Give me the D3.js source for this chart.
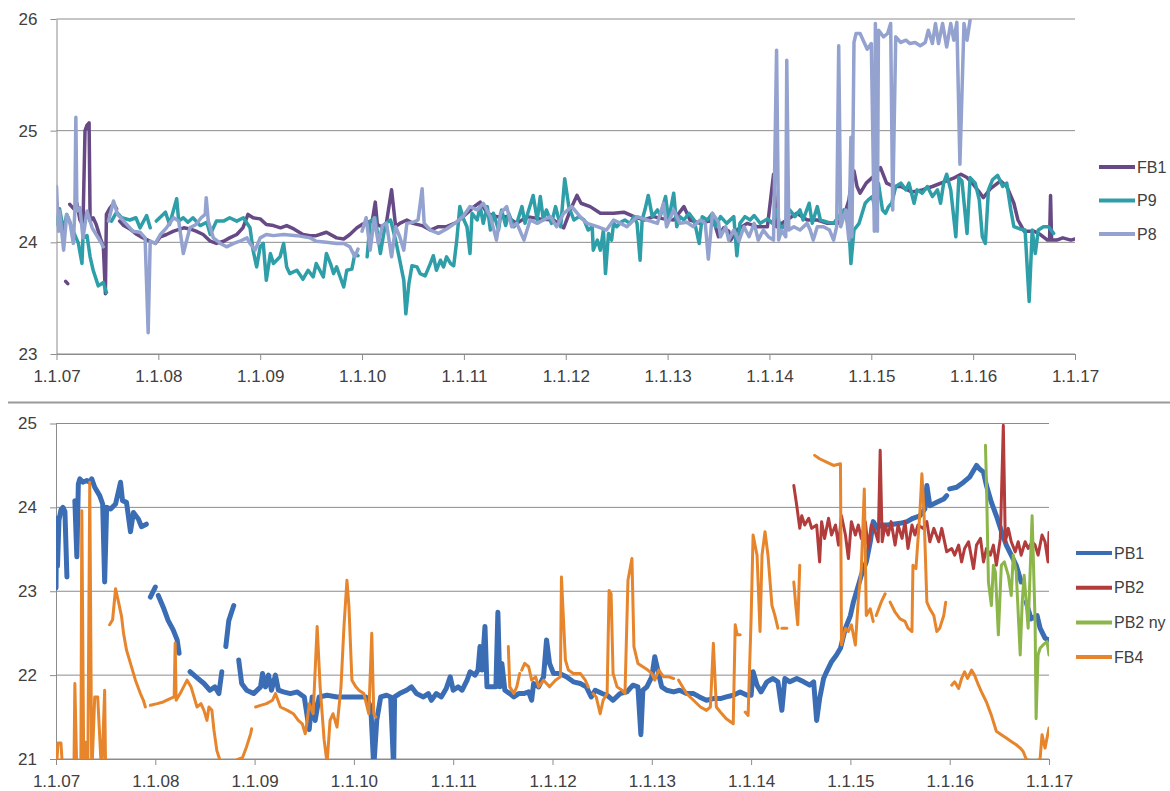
<!DOCTYPE html>
<html>
<head>
<meta charset="utf-8">
<script src="https://cdn.jsdelivr.net/npm/d3@7"></script>
<style>
  body { margin: 0; background: #fff; }
  svg { display: block; }
  text { font-family: "Liberation Sans", Arial, sans-serif; fill: #404040; }
</style>
</head>
<body>
<svg id="chart"></svg>
<script>
// x values are years after 2000 (7.5 = mid 2007), null = gap in the series
const years = d3.range(7, 18);
const topTicks = [23, 24, 25, 26];
const bottomTicks = [21, 22, 23, 24, 25];

const fb1 = [[7.09,23.65],[7.11,23.63],null,
  [7.13,24.34],[7.17,24.3],[7.2,24.35],[7.23,24.2],[7.26,24.15],[7.28,25.0],[7.3,25.05],[7.32,25.07],[7.33,24.19],[7.36,24.22],[7.39,24.16],[7.43,24.04],[7.46,23.96],[7.48,23.54],[7.49,24.25],[7.52,24.3],[7.56,24.35],[7.59,24.3],null,
  [7.62,24.19],[7.66,24.15],[7.72,24.12],[7.79,24.07],[7.85,24.04],[7.92,24.01],null,
  [7.97,23.99],[8.02,24.05],[8.08,24.07],[8.15,24.1],[8.25,24.13],[8.31,24.12],[8.37,24.1],[8.44,24.07],[8.51,24.01],[8.57,23.99],[8.64,24.01],[8.7,24.04],[8.77,24.07],[8.83,24.13],[8.88,24.25],[8.93,24.22],[9.0,24.21],[9.06,24.16],[9.13,24.15],[9.2,24.13],[9.26,24.15],[9.33,24.12],[9.42,24.07],[9.49,24.06],[9.55,24.06],[9.65,24.09],[9.75,24.04],[9.82,24.03],[9.88,24.07],[9.95,24.13],[10.0,24.16],[10.05,24.18],[10.1,24.19],[10.13,24.36],[10.15,24.16],[10.21,24.13],[10.24,24.18],[10.29,24.47],[10.33,24.14],[10.37,24.17],[10.44,24.2],[10.5,24.17],[10.59,24.15],[10.67,24.11],[10.75,24.14],[10.83,24.14],[10.93,24.18],[11.03,24.26],[11.1,24.32],[11.16,24.36],[11.23,24.26],[11.32,24.23],[11.42,24.23],[11.52,24.17],[11.62,24.23],[11.75,24.21],[11.88,24.2],[11.98,24.13],[12.05,24.3],[12.11,24.42],[12.15,24.35],[12.24,24.32],[12.34,24.26],[12.47,24.26],[12.57,24.27],[12.67,24.23],[12.77,24.2],[12.86,24.23],[12.96,24.21],[13.06,24.2],[13.16,24.32],[13.22,24.2],[13.32,24.17],[13.45,24.2],[13.5,24.05],[13.55,24.13],[13.6,24.1],[13.62,24.02],[13.68,24.11],[13.78,24.17],[13.88,24.14],[13.98,24.14],[14.04,24.61],[14.07,24.14],[14.17,24.2],[14.27,24.26],[14.37,24.2],[14.47,24.2],[14.57,24.17],[14.67,24.17],[14.73,24.23],[14.78,24.38],[14.81,24.58],[14.83,24.64],[14.86,24.5],[14.89,24.44],[14.95,24.53],[15.02,24.59],[15.09,24.67],[15.15,24.53],[15.22,24.5],[15.29,24.5],[15.4,24.45],[15.5,24.47],[15.6,24.5],[15.74,24.55],[15.82,24.58],[15.88,24.61],[15.94,24.58],[16.0,24.52],[16.06,24.45],[16.1,24.4],[16.17,24.48],[16.27,24.55],[16.33,24.5],[16.4,24.35],[16.44,24.2],[16.5,24.1],[16.6,24.1],[16.66,24.07],[16.73,24.02],[16.75,24.02],[16.76,24.42],[16.77,24.02],[16.82,24.02],[16.88,24.04],[16.96,24.02],[17.0,24.03]];

const p9 = [[7.0,24.16],[7.03,24.3],[7.07,24.1],[7.1,24.25],[7.165,24.1],[7.215,23.99],[7.25,23.81],[7.26,24.04],[7.3,24.06],[7.33,23.87],[7.36,23.75],[7.41,23.61],[7.46,23.64],[7.49,23.55],null,
  [7.54,24.19],[7.59,24.27],[7.64,24.22],[7.72,24.2],[7.78,24.22],[7.82,24.13],[7.885,24.24],[7.92,24.13],null,
  [7.98,24.19],[8.07,24.27],[8.11,24.16],[8.18,24.39],[8.2,24.19],[8.245,24.22],[8.29,24.18],[8.34,24.22],[8.41,24.15],[8.475,24.18],[8.51,24.07],[8.57,24.19],[8.64,24.19],[8.7,24.22],[8.77,24.19],[8.835,24.22],[8.9,24.13],[8.93,23.93],[8.965,23.78],[9.0,23.96],[9.03,23.99],[9.06,23.66],[9.1,23.9],[9.13,23.81],[9.195,23.87],[9.23,23.99],[9.26,23.78],[9.29,23.72],[9.36,23.75],[9.42,23.67],[9.47,23.75],[9.52,23.69],[9.55,23.81],[9.62,23.69],[9.65,23.9],[9.69,23.81],[9.72,23.72],[9.75,23.78],[9.82,23.6],[9.85,23.75],[9.9,23.76],[9.93,23.9],[9.96,23.88],null,
  [10.05,23.87],[10.08,24.19],[10.13,24.22],[10.18,23.9],[10.23,24.17],[10.28,24.2],[10.33,24.02],[10.37,23.84],[10.41,23.66],[10.43,23.36],[10.46,23.63],[10.49,23.79],[10.54,23.78],[10.57,23.72],[10.62,23.7],[10.67,23.81],[10.7,23.88],[10.73,23.75],[10.77,23.84],[10.8,23.78],[10.83,23.87],[10.87,23.81],[10.9,23.79],[10.93,24.02],[10.96,24.32],[11.0,24.2],[11.03,24.14],[11.06,23.9],[11.08,24.26],[11.13,24.2],[11.16,24.32],[11.19,24.17],[11.23,24.32],[11.26,24.11],[11.29,24.26],[11.34,24.11],[11.37,24.29],[11.41,24.15],[11.44,24.26],[11.49,24.14],[11.52,24.17],[11.57,24.32],[11.6,24.17],[11.63,24.27],[11.68,24.42],[11.72,24.2],[11.75,24.41],[11.78,24.2],[11.81,24.29],[11.86,24.17],[11.9,24.32],[11.95,24.14],[11.99,24.57],[12.03,24.32],[12.08,24.2],[12.13,24.23],[12.18,24.2],[12.22,24.11],[12.26,24.14],[12.27,23.93],[12.31,24.02],[12.34,23.93],[12.37,24.11],[12.39,23.72],[12.42,24.08],[12.45,24.02],[12.47,24.17],[12.5,24.14],[12.54,24.18],[12.58,24.2],[12.63,24.17],[12.67,24.23],[12.7,24.17],[12.73,23.84],[12.75,24.2],[12.78,24.3],[12.81,24.42],[12.85,24.23],[12.9,24.29],[12.93,24.24],[12.98,24.41],[13.01,24.2],[13.06,24.44],[13.09,24.14],[13.12,24.23],[13.16,24.2],[13.21,24.26],[13.26,24.2],[13.31,23.99],[13.34,24.23],[13.39,24.2],[13.44,24.26],[13.47,24.14],[13.52,24.23],[13.58,24.17],[13.65,24.23],[13.68,23.88],[13.71,24.17],[13.76,24.23],[13.81,24.2],[13.85,24.24],[13.91,24.17],[13.98,24.21],[14.03,24.17],[14.07,24.29],[14.11,24.11],[14.16,24.17],[14.2,24.29],[14.25,24.23],[14.3,24.29],[14.33,24.2],[14.39,24.35],[14.42,24.17],[14.47,24.32],[14.5,24.2],[14.57,24.18],[14.63,24.17],[14.68,24.23],[14.73,24.29],[14.78,24.14],[14.8,23.81],[14.83,24.11],[14.88,24.17],[14.91,24.26],[14.94,24.35],[14.97,24.38],[15.01,24.41],[15.04,24.29],[15.07,24.53],[15.11,24.29],[15.14,24.26],[15.17,24.32],[15.2,24.35],[15.24,24.5],[15.29,24.53],[15.34,24.47],[15.37,24.53],[15.42,24.35],[15.45,24.47],[15.5,24.44],[15.55,24.5],[15.6,24.41],[15.65,24.47],[15.68,24.35],[15.71,24.53],[15.74,24.61],[15.78,24.47],[15.83,24.05],[15.86,24.58],[15.89,24.55],[15.94,24.08],[15.97,24.58],[16.02,24.53],[16.06,24.38],[16.09,24.05],[16.12,23.99],[16.15,24.47],[16.19,24.56],[16.24,24.6],[16.29,24.5],[16.33,24.53],[16.37,24.29],[16.4,24.14],[16.46,24.12],[16.51,24.11],[16.55,23.47],[16.58,24.11],[16.61,23.9],[16.64,24.11],[16.69,24.14],[16.74,24.14],[16.79,24.08]];

const p8 = [[7.0,24.5],[7.01,24.28],[7.02,24.1],[7.03,24.28],[7.07,23.93],[7.1,24.25],[7.13,24.19],[7.165,23.99],[7.18,24.28],[7.19,25.12],[7.2,24.28],[7.23,24.31],[7.26,24.04],[7.3,24.28],[7.35,24.13],[7.39,24.07],[7.43,24.01],[7.46,23.96],null,
  [7.51,24.19],[7.56,24.37],[7.6,24.25],[7.66,24.19],[7.75,24.1],[7.82,24.09],[7.87,24.04],[7.9,23.19],[7.92,24.01],[7.97,23.99],[8.02,24.07],[8.08,24.13],[8.15,24.22],[8.2,24.19],[8.245,23.9],[8.31,24.13],[8.37,24.16],[8.42,24.22],[8.46,24.25],[8.47,24.4],[8.49,24.19],[8.54,24.04],[8.61,23.99],[8.67,23.96],[8.74,23.99],[8.8,24.01],[8.87,24.04],[8.9,23.99],[8.95,23.93],[9.0,24.04],[9.06,24.07],[9.13,24.06],[9.23,24.07],[9.36,24.06],[9.49,24.04],[9.55,24.01],[9.65,24.0],[9.75,23.99],[9.82,23.99],[9.88,23.96],[9.93,23.87],[9.96,23.94],null,
  [10.0,24.1],[10.04,24.22],[10.08,23.93],[10.12,24.22],[10.16,23.99],[10.2,24.15],[10.24,24.17],[10.29,23.87],[10.33,24.14],[10.37,24.05],[10.41,23.93],[10.44,24.17],[10.5,24.18],[10.55,24.2],[10.59,24.48],[10.61,24.17],[10.67,24.11],[10.75,24.08],[10.83,24.12],[10.91,24.17],[10.99,24.23],[11.06,24.32],[11.13,24.29],[11.19,24.35],[11.26,24.23],[11.32,24.02],[11.36,24.26],[11.42,24.32],[11.47,24.14],[11.52,24.17],[11.59,24.02],[11.65,24.2],[11.72,24.17],[11.78,24.2],[11.85,24.23],[11.91,24.14],[11.98,24.26],[12.06,24.32],[12.14,24.23],[12.21,24.17],[12.31,24.14],[12.4,24.11],[12.47,24.2],[12.54,24.17],[12.6,24.14],[12.7,24.23],[12.8,24.2],[12.9,24.17],[12.96,24.35],[12.99,24.14],[13.06,24.29],[13.12,24.17],[13.19,24.18],[13.25,24.14],[13.32,24.2],[13.37,24.17],[13.4,23.85],[13.44,24.26],[13.5,24.18],[13.52,24.05],[13.57,24.14],[13.6,24.02],[13.65,24.11],[13.7,24.01],[13.75,24.14],[13.8,24.05],[13.85,24.17],[13.89,24.02],[13.94,24.11],[13.99,24.05],[14.04,24.02],[14.07,25.72],[14.09,24.02],[14.12,24.11],[14.16,24.05],[14.17,25.63],[14.19,24.11],[14.24,24.14],[14.3,24.11],[14.37,24.17],[14.4,24.11],[14.43,24.02],[14.47,24.14],[14.53,24.14],[14.59,24.11],[14.63,24.02],[14.66,24.14],[14.68,25.76],[14.7,24.14],[14.75,24.29],[14.78,24.02],[14.8,24.94],[14.81,24.05],[14.83,25.79],[14.85,25.87],[14.89,25.87],[14.93,25.79],[14.96,25.73],[15.0,25.78],[15.03,24.1],[15.04,25.96],[15.06,24.1],[15.07,25.9],[15.12,25.84],[15.16,25.87],[15.19,25.96],[15.21,24.29],[15.24,25.84],[15.29,25.79],[15.34,25.81],[15.38,25.78],[15.43,25.79],[15.48,25.76],[15.53,25.79],[15.56,25.9],[15.6,25.78],[15.63,25.96],[15.66,25.78],[15.7,25.96],[15.74,25.75],[15.78,25.96],[15.81,25.81],[15.84,25.97],[15.87,24.7],[15.91,25.96],[15.94,25.81],[15.97,25.99]];

const pb1 = [[7.0,23.04],[7.005,23.87],[7.015,23.3],[7.03,23.85],[7.05,23.97],[7.07,24.0],[7.09,23.95],[7.11,23.17],null,
  [7.19,24.08],[7.21,23.41],[7.225,24.28],[7.24,24.34],[7.27,24.3],[7.31,24.32],[7.34,24.3],[7.36,24.34],[7.39,24.24],[7.44,24.14],[7.47,24.04],[7.49,23.11],[7.51,24.0],[7.55,23.98],[7.6,24.04],[7.65,24.3],[7.67,24.08],[7.71,24.06],[7.75,23.71],[7.78,23.94],[7.83,23.86],[7.86,23.77],[7.91,23.8],null,
  [7.95,22.93],[8.0,23.05],null,
  [8.03,22.95],[8.08,22.81],[8.13,22.65],[8.18,22.54],[8.22,22.42],[8.24,22.26],null,
  [8.35,22.04],[8.41,21.98],[8.49,21.9],[8.55,21.82],[8.6,21.86],[8.64,21.78],[8.67,22.04],null,
  [8.71,22.34],[8.74,22.65],[8.79,22.83],null,
  [8.84,22.18],[8.87,21.9],[8.92,21.82],[8.99,21.78],[9.06,21.86],[9.08,22.02],[9.11,21.86],[9.14,22.0],[9.17,21.82],[9.21,22.0],[9.24,21.82],[9.29,21.8],[9.36,21.78],[9.43,21.8],[9.5,21.74],[9.55,21.35],[9.58,21.74],[9.61,21.46],[9.65,21.74],[9.73,21.76],[9.83,21.74],[9.93,21.74],[10.03,21.74],[10.12,21.74],[10.17,21.62],[10.2,20.9],[10.23,21.46],[10.27,21.74],[10.33,21.76],[10.37,21.74],[10.4,20.9],[10.41,21.74],[10.46,21.78],[10.53,21.82],[10.58,21.86],[10.63,21.78],[10.7,21.74],[10.75,21.78],[10.78,21.7],[10.83,21.78],[10.88,21.74],[10.93,21.84],[10.97,21.98],[11.0,21.82],[11.05,21.86],[11.09,21.82],[11.14,21.94],[11.17,22.04],[11.22,22.0],[11.25,22.06],[11.27,22.34],[11.29,22.06],[11.32,22.58],[11.34,21.86],[11.38,21.86],[11.43,21.86],[11.45,22.75],[11.47,21.86],[11.49,22.14],[11.52,21.82],[11.57,21.78],[11.61,21.74],[11.66,21.78],[11.71,21.78],[11.76,21.8],[11.79,21.7],[11.81,21.9],[11.86,21.86],[11.91,21.98],[11.94,22.42],[11.97,22.14],[12.01,22.02],[12.07,22.02],[12.14,21.98],[12.21,21.92],[12.28,21.9],[12.34,21.86],[12.39,21.74],[12.43,21.82],[12.5,21.78],[12.55,21.76],[12.61,21.7],[12.68,21.78],[12.75,21.8],[12.81,21.88],[12.86,21.86],[12.89,21.29],[12.91,21.82],[12.95,21.86],[13.0,21.98],[13.03,22.22],[13.06,22.06],[13.1,21.86],[13.15,21.82],[13.22,21.8],[13.28,21.82],[13.35,21.78],[13.42,21.78],[13.48,21.74],[13.55,21.7],[13.62,21.72],[13.69,21.72],[13.75,21.74],[13.82,21.76],[13.89,21.8],[13.96,21.76],[14.0,21.76],[14.02,22.04],[14.06,21.88],[14.1,21.8],[14.16,21.92],[14.22,21.96],[14.27,21.92],[14.31,21.58],[14.34,21.96],[14.39,21.92],[14.46,21.96],[14.53,21.92],[14.59,21.88],[14.63,21.92],[14.66,21.46],[14.69,21.72],[14.73,21.96],[14.76,22.04],[14.81,22.16],[14.86,22.24],[14.9,22.32],[14.95,22.56],[15.0,22.71],[15.03,22.87],[15.06,22.99],[15.11,23.19],[15.16,23.35],[15.2,23.59],[15.23,23.83],[15.27,23.75],[15.3,23.79],[15.37,23.79],[15.43,23.8],[15.5,23.81],[15.57,23.83],[15.63,23.87],[15.7,23.9],[15.75,23.98],[15.77,24.26],[15.8,24.02],[15.87,24.06],[15.94,24.1],[15.97,24.14],null,
  [16.0,24.22],[16.07,24.24],[16.14,24.3],[16.2,24.36],[16.27,24.5],[16.3,24.46],[16.34,24.42],[16.37,24.26],[16.42,24.06],[16.47,23.9],[16.52,23.72],[16.57,23.55],[16.62,23.43],[16.67,23.31],[16.72,23.11],null,
  [16.77,22.87],[16.82,22.67],[16.88,22.71],[16.91,22.56],[16.96,22.44],[17.0,22.42]];

const pb2 = [[14.43,24.26],[14.46,24.02],[14.49,23.75],[14.51,23.9],[14.54,23.79],[14.58,23.87],[14.61,23.75],[14.66,23.79],[14.69,23.35],[14.71,23.83],[14.74,23.63],[14.78,23.87],[14.81,23.67],[14.85,23.79],[14.88,23.55],[14.91,23.9],[14.95,23.67],[14.98,23.39],[15.01,23.83],[15.05,23.67],[15.08,23.79],[15.11,23.63],[15.15,23.83],[15.18,23.51],[15.21,23.79],[15.25,23.71],[15.28,23.59],[15.3,24.68],[15.32,23.59],[15.35,23.79],[15.38,23.67],[15.41,23.83],[15.45,23.55],[15.48,23.79],[15.52,23.63],[15.55,23.83],[15.58,23.51],[15.62,23.79],[15.65,23.67],[15.68,23.79],[15.73,23.75],[15.77,23.83],[15.8,23.59],[15.84,23.75],[15.89,23.59],[15.92,23.75],[15.97,23.47],[16.02,23.51],[16.05,23.43],[16.09,23.55],[16.12,23.35],[16.15,23.51],[16.19,23.59],[16.24,23.27],[16.27,23.55],[16.31,23.63],[16.34,23.35],[16.37,23.51],[16.41,23.43],[16.44,23.55],[16.47,23.31],[16.51,23.63],[16.54,24.98],[16.56,23.59],[16.59,23.75],[16.62,23.59],[16.66,23.47],[16.69,23.59],[16.72,23.43],[16.76,23.59],[16.79,23.51],[16.83,23.59],[16.86,23.55],[16.89,23.43],[16.93,23.67],[16.96,23.59],[16.99,23.35],[17.0,23.7]];

const pb2ny = [[16.36,24.74],[16.37,24.3],[16.39,23.11],[16.42,22.83],[16.44,23.31],[16.46,23.23],[16.47,22.99],[16.49,22.48],[16.52,23.31],[16.55,23.35],[16.59,23.19],[16.62,22.95],[16.64,23.43],[16.67,23.23],[16.71,22.24],[16.73,22.87],[16.75,23.19],[16.77,22.87],[16.79,22.56],[16.83,23.9],[16.86,22.64],[16.87,21.48],[16.89,22.24],[16.91,22.32],[16.94,22.36],[16.98,22.4],[17.0,22.24]];

const fb4 = [[7.0,20.8],[7.02,21.19],[7.05,21.19],[7.07,20.8],null,
  [7.18,20.8],[7.19,21.9],[7.21,20.8],[7.25,20.8],[7.26,23.96],[7.28,20.8],[7.3,21.2],[7.32,20.8],[7.34,24.3],[7.36,20.8],[7.39,21.74],[7.42,21.74],[7.46,20.8],[7.49,21.82],[7.5,20.8],null,
  [7.54,22.6],[7.57,22.66],[7.6,23.03],[7.63,22.87],[7.66,22.7],[7.68,22.5],[7.71,22.3],[7.75,22.14],[7.8,21.94],[7.85,21.78],[7.88,21.7],[7.9,21.62],null,
  [7.95,21.64],[8.02,21.66],[8.08,21.68],[8.15,21.72],[8.19,21.74],[8.2,22.38],[8.21,21.7],[8.25,21.78],[8.32,21.94],[8.36,21.86],[8.39,21.74],[8.42,21.62],[8.46,21.66],[8.49,21.58],[8.52,21.46],[8.54,21.62],[8.57,21.58],[8.59,21.35],[8.62,21.1],[8.65,20.99],null,
  [8.82,20.99],[8.88,21.02],[8.92,21.15],[8.96,21.3],[8.97,21.36],null,
  [9.01,21.62],[9.06,21.64],[9.12,21.66],[9.18,21.7],[9.21,21.78],[9.26,21.62],[9.33,21.58],[9.39,21.54],[9.44,21.46],[9.48,21.42],[9.51,21.3],[9.53,21.46],[9.55,21.66],[9.59,21.54],[9.63,22.58],[9.66,21.86],[9.7,21.23],[9.73,20.95],[9.76,21.46],[9.79,21.54],[9.83,21.38],[9.87,21.86],[9.9,22.58],[9.93,23.13],[9.95,22.82],[9.98,21.94],[10.02,21.86],[10.05,21.82],[10.1,21.78],[10.15,21.54],[10.18,22.5],[10.2,21.54],[10.22,21.5],null,
  [11.555,22.34],[11.57,21.86],[11.61,21.78],[11.64,21.86],[11.67,22.02],null,
  [11.69,22.06],[11.72,22.14],[11.76,22.1],[11.79,21.94],[11.83,21.98],[11.86,21.86],[11.91,21.94],[11.97,21.86],[12.03,21.94],[12.08,21.98],[12.09,23.17],[12.13,22.18],[12.16,22.06],[12.21,22.02],[12.28,22.02],[12.33,21.94],[12.36,21.86],null,
  [12.41,21.78],[12.44,21.74],[12.48,21.54],[12.51,21.7],[12.55,21.78],[12.57,23.01],[12.59,22.97],[12.61,22.02],[12.65,21.86],[12.7,21.82],[12.73,21.78],[12.76,23.13],[12.8,23.39],[12.82,22.34],[12.86,22.14],[12.91,22.1],[12.96,22.06],[13.0,22.02],[13.03,21.94],[13.07,22.06],[13.12,21.98],[13.17,21.98],[13.22,21.96],null,
  [13.27,21.94],[13.3,21.88],[13.35,21.78],[13.42,21.7],[13.49,21.62],[13.55,21.58],[13.59,21.62],[13.62,22.38],[13.65,21.62],[13.69,21.56],[13.75,21.48],[13.82,21.42],[13.84,22.6],[13.86,22.48],[13.89,22.48],null,
  [13.94,21.56],[13.97,21.52],[14.0,22.67],[14.02,23.67],[14.06,23.43],[14.09,22.52],[14.11,23.43],[14.14,23.71],[14.17,23.43],[14.21,22.83],[14.24,22.71],[14.27,22.56],null,
  [14.31,22.56],[14.36,22.56],null,
  [14.43,23.11],[14.45,22.83],[14.47,22.6],[14.49,23.31],null,
  [14.64,24.62],[14.69,24.58],[14.76,24.54],[14.83,24.5],[14.9,24.52],[14.91,22.36],[14.95,22.56],[14.98,22.52],[15.01,22.6],[15.05,22.36],[15.08,22.91],[15.11,23.27],[15.14,24.22],[15.16,22.71],[15.2,22.79],[15.23,22.64],null,
  [15.26,22.71],[15.31,22.87],[15.35,22.97],null,
  [15.4,22.87],[15.45,22.75],[15.5,22.67],[15.55,22.64],[15.58,22.56],[15.62,22.52],[15.63,23.31],[15.66,23.27],[15.7,23.94],[15.72,24.4],[15.74,23.98],[15.77,22.87],[15.8,22.79],[15.84,22.71],[15.87,22.52],[15.9,22.56],[15.94,22.71],[15.96,22.87],null,
  [16.02,21.88],[16.05,21.92],[16.09,21.84],[16.12,21.96],[16.15,22.04],[16.18,21.96],[16.22,22.06],[16.25,22.0],[16.29,21.88],[16.32,21.8],[16.37,21.68],[16.42,21.52],[16.47,21.33],[16.52,21.29],[16.57,21.25],[16.62,21.21],[16.67,21.17],[16.71,21.13],[16.74,21.09],[16.77,21.0],[16.84,20.96],[16.91,21.0],[16.93,21.29],[16.96,21.13],[17.0,21.37]];

const topSeries = [
  { name: "FB1", data: fb1, color: "#664985", width: 3.5 },
  { name: "P9", data: p9, color: "#2e9ea8", width: 3.5 },
  { name: "P8", data: p8, color: "#93a2cf", width: 3.5 }
];
const bottomSeries = [
  { name: "PB1", data: pb1, color: "#3b6db4", width: 5 },
  { name: "PB2", data: pb2, color: "#b23b3b", width: 3 },
  { name: "PB2 ny", data: pb2ny, color: "#8cb54a", width: 3 },
  { name: "FB4", data: fb4, color: "#e6852c", width: 3 }
];

const width = 1170, height = 791;
const gridColor = "#8c8c8c";

const svg = d3.select("#chart")
  .attr("width", width)
  .attr("height", height);

function drawPanel(id, cfg) {
  const x = d3.scaleLinear().domain([7, 17]).range(cfg.xRange);
  const y = d3.scaleLinear().domain(cfg.yDomain).range(cfg.yRange);

  const g = svg.append("g");

  // gridlines
  g.selectAll("line.grid")
    .data(cfg.yTicks)
    .join("line")
    .attr("class", "grid")
    .attr("x1", cfg.xRange[0])
    .attr("x2", cfg.xRange[1])
    .attr("y1", d => y(d))
    .attr("y2", d => y(d))
    .attr("stroke", gridColor)
    .attr("stroke-width", 1);

  // axes
  const yAxis = d3.axisLeft(y)
    .tickValues(cfg.yTicks)
    .tickSize(6)
    .tickSizeOuter(0)
    .tickPadding(13)
    .tickFormat(d3.format("d"));

  const xAxis = d3.axisBottom(x)
    .tickValues(years)
    .tickSize(6)
    .tickSizeOuter(0)
    .tickPadding(10)
    .tickFormat(t => "1.1." + String(t).padStart(2, "0"));

  const ya = g.append("g")
    .attr("transform", `translate(${cfg.xRange[0]},0)`)
    .call(yAxis);
  const xa = g.append("g")
    .attr("transform", `translate(0,${cfg.yRange[0]})`)
    .call(xAxis);

  [ya, xa].forEach(a => {
    a.select(".domain").attr("stroke", gridColor);
    a.selectAll(".tick line").attr("stroke", gridColor);
    a.selectAll("text")
      .attr("font-size", "17px")
      .attr("font-family", "'Liberation Sans', Arial, sans-serif")
      .attr("fill", "#404040");
  });

  // clip to plot area
  svg.append("clipPath")
    .attr("id", id)
    .append("rect")
    .attr("x", cfg.xRange[0])
    .attr("y", cfg.yRange[1])
    .attr("width", cfg.xRange[1] - cfg.xRange[0])
    .attr("height", cfg.yRange[0] - cfg.yRange[1]);

  const line = d3.line()
    .defined(d => d !== null)
    .x(d => x(d[0]))
    .y(d => y(d[1]));

  g.append("g")
    .attr("clip-path", `url(#${id})`)
    .selectAll("path")
    .data(cfg.series)
    .join("path")
    .attr("d", s => line(s.data))
    .attr("fill", "none")
    .attr("stroke", s => s.color)
    .attr("stroke-width", s => s.width)
    .attr("stroke-linejoin", "round")
    .attr("stroke-linecap", "round");

  // legend
  const legend = g.append("g");
  const items = legend.selectAll("g")
    .data(cfg.series)
    .join("g")
    .attr("transform", (d, i) => `translate(${cfg.legendX},${cfg.legendY + i * cfg.legendStep})`);

  items.append("line")
    .attr("x1", 0)
    .attr("x2", 36)
    .attr("stroke", d => d.color)
    .attr("stroke-width", 4);

  items.append("text")
    .attr("x", 38)
    .attr("dy", "0.35em")
    .attr("font-size", "16px")
    .text(d => d.name);
}

drawPanel("clipTop", {
  xRange: [56.5, 1075],
  yDomain: [23, 26],
  yRange: [354, 19],
  yTicks: topTicks,
  series: topSeries,
  legendX: 1099,
  legendY: 167,
  legendStep: 33.5
});

// separator between the two charts
svg.append("line")
  .attr("x1", 8)
  .attr("x2", width)
  .attr("y1", 402.5)
  .attr("y2", 402.5)
  .attr("stroke", "#9a9a9a")
  .attr("stroke-width", 2);

drawPanel("clipBottom", {
  xRange: [56, 1049],
  yDomain: [21, 25],
  yRange: [759, 423.5],
  yTicks: bottomTicks,
  series: bottomSeries,
  legendX: 1076,
  legendY: 553,
  legendStep: 34.7
});
</script>
</body>
</html>
